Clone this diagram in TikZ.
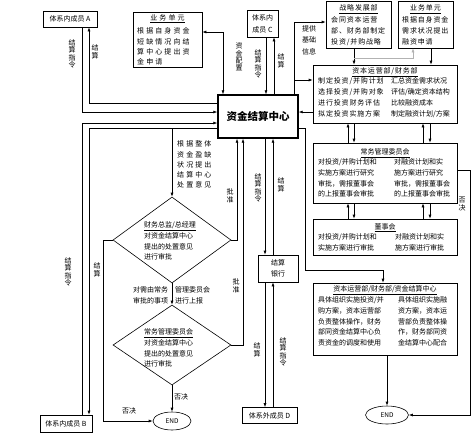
\documentclass[tikz,border=0pt]{standalone}
\usepackage{fontspec}
\setmainfont{Noto Sans CJK SC}
\newfontfamily\widefam[LetterSpace=30]{Noto Sans CJK SC}
\newfontfamily\midfam[LetterSpace=12]{Noto Sans CJK SC}
\usetikzlibrary{shapes.geometric,arrows.meta}
\newcommand\fs{\fontsize{7pt}{10.7pt}\selectfont}
\newcommand\fsw{\widefam\fontsize{7pt}{10.3pt}\selectfont}
\newcommand\fsm{\midfam\fontsize{7pt}{10.8pt}\selectfont}
\newcommand\fsr{\fontsize{7pt}{10.8pt}\selectfont}
\newcommand\fv{\fontsize{7pt}{7.4pt}\selectfont}
\begin{document}
\begin{tikzpicture}[x=1pt,y=-1pt,
  box/.style={draw, line width=0.6pt, inner sep=0pt},
  txt/.style={align=left, inner sep=0pt, anchor=north west},
  ttl/.style={inner sep=0pt, anchor=north},
  vl/.style={font=\fv, align=center, inner sep=0pt},
  hl/.style={font=\fs, inner sep=0pt},
  ln/.style={line width=0.6pt},
  arr/.style={ln, -{Latex[length=4pt,width=3pt]}},
  arrb/.style={ln, {Latex[length=4pt,width=3pt]}-{Latex[length=4pt,width=3pt]}},
]
\useasboundingbox (0,0) rectangle (474,432);

% ---------- boxes ----------
\node[box, minimum width=54pt, minimum height=16pt, font=\fs] (A) at (70,19) {体系内成员 A};
\node[box, minimum width=52pt, minimum height=17pt, font=\fs] (B) at (66,423.5) {体系内成员 B};
\node[box, minimum width=55pt, minimum height=16pt, font=\fs] (D) at (269.5,415.5) {体系外成员 D};
\node[box, minimum width=31pt, minimum height=27pt, align=center, font=\fontsize{7pt}{12pt}\selectfont] (C) at (262.5,23.5) {体系内\\成员 C};
\node[box, minimum width=40pt, minimum height=27pt, align=center, font=\fontsize{7pt}{11.5pt}\selectfont] (bank) at (278,268.5) {结算\\银行};

\node[draw, line width=1.4pt, minimum width=80pt, minimum height=43pt, inner sep=0pt,
      font=\fontsize{10.5pt}{12pt}\selectfont\bfseries] (ctr) at (258,116.5) {资金结算中心};

% business unit (left)
\node[box, minimum width=69pt, minimum height=55pt] (bizL) at (167.5,39.5) {};
\node[ttl, font=\fsw] (bizLt) at (167.5,14.5) {\underline{业务单元}};
\node[txt, font=\fsw] (bizLx) at (137,27.7) {根据自身资金\\短缺情况向结\\算中心提出资\\金申请};

% strategy
\node[box, minimum width=65pt, minimum height=47pt] (strat) at (358.5,24.5) {};
\node[ttl, font=\fsm] (stratt) at (358.5,4.7) {\underline{战略发展部}};
\node[txt, font=\fsm] (stratx) at (331,16.7) {会同资本运营\\部、财务部制定\\投资/并购战略};

% business unit (right)
\node[box, minimum width=55pt, minimum height=47pt] (bizR) at (425.5,24.5) {};
\node[ttl, font=\fsm] (bizRt) at (425.5,4.7) {\underline{业务单元}};
\node[txt, font=\fsm] (bizRx) at (402,16.7) {根据自身资金\\需求状况提出\\融资申请};

% capital operation / finance
\node[box, minimum width=144pt, minimum height=58pt] (capOp) at (385,94) {};
\node[ttl, font=\fsm] (capOpt) at (385,67.7) {\underline{资本运营部/财务部}};
\node[txt, font=\fsm] (capOpl) at (318,77.7) {制定投资/并购计划\\选择投资/并购对象\\进行投资财务评估\\拟定投资实施方案};
\node[txt, font=\fsr] (capOpr) at (391,77.7) {汇总资金需求状况\\评估/确定资本结构\\比较融资成本\\制定融资计划/方案};

% standing committee
\node[box, minimum width=144pt, minimum height=60pt] (stand) at (385,173) {};
\node[ttl, font=\fs] (standt) at (385,148.7) {\underline{常务管理委员会}};
\node[txt, font=\fs] (standl) at (318,158.7) {对投资/并购计划和\\实施方案进行研究\\审批，需报董事会\\的上报董事会审批};
\node[txt, font=\fs] (standr) at (394,158.7) {对融资计划和实\\施方案进行研究\\审批，需报董事会\\的上报董事会审批};

% board
\node[box, minimum width=144pt, minimum height=36pt] (board) at (385,237) {};
\node[ttl, font=\fs] (boardt) at (385,223) {\underline{董事会}};
\node[txt, font=\fs] (boardl) at (318,233.2) {对投资/并购计划和\\实施方案进行审批};
\node[txt, font=\fs] (boardr) at (395,233.2) {对融资计划和实\\施方案进行审批};

% implementation
\node[box, minimum width=144pt, minimum height=72pt] (impl) at (385,319) {};
\node[ttl, font=\fs] (implt) at (385,285.7) {\underline{资本运营部/财务部/资金结算中心}};
\node[txt, font=\fs] (impll) at (318,296.7) {具体组织实施投资/并\\购方案，资本运营部\\负责整体操作，财务\\部同资金结算中心负\\责资金的调度和使用};
\node[txt, font=\fs] (implr) at (398,296.7) {具体组织实施融\\资方案，资本运\\营部负责整体操\\作，财务部同资\\金结算中心配合};

% diamonds
\node[draw, ln, diamond, minimum width=118pt, minimum height=86pt, inner sep=0pt] (d1) at (172,240) {};
\node[txt, font=\fs] (d1x) at (144,221.7) {\underline{财务总监/总经理}\\对资金结算中心\\提出的处置意见\\进行审批};
\node[draw, ln, diamond, minimum width=118pt, minimum height=80pt, inner sep=0pt] (d2) at (172,345) {};
\node[txt, font=\fs] (d2x) at (144,328.7) {\underline{常务管理委员会}\\对资金结算中心\\提出的处置意见\\进行审批};

% END
\node[draw, ln, ellipse, minimum width=38pt, minimum height=18pt, inner sep=0pt, font=\fontsize{6.5pt}{7pt}\selectfont] (endL) at (172,421) {END};
\node[draw, ln, ellipse, minimum width=43pt, minimum height=18pt, inner sep=0pt, font=\fontsize{6.5pt}{7pt}\selectfont] (endR) at (387,415) {END};

% free texts
\node[txt, font=\fsw] (note1) at (177,140.7) {根据整体\\资金盈缺\\状况提出\\结算中心\\处置意见};
\node[txt, font=\fs] (note2) at (133,286.7) {对需由常务\hspace{7pt}管理委员会\\审批的事项\hspace{7pt}进行上报};

% ---------- connectors ----------
\coordinate (aO) at (82,112);
\coordinate (aI) at (89,103);
\coordinate (bO) at (82,123);
\coordinate (bI) at (89,128);
\draw[arr] (A.south -| aO) -- (aO) -- (aO -| ctr.west);
\draw[arr] (aI -| ctr.west) -- (aI) -- (A.south -| aI);
\draw[arr] (B.north -| bO) -- (bO) -- (bO -| ctr.west);
\draw[arr] (bI -| ctr.west) -- (bI) -- (B.north -| bI);
\coordinate (dj) at (172,128);
\draw[arr] (dj) -- (d1.north);

\coordinate (zj) at (223,32);
\draw[arrb] (bizL.east |- zj) -- (zj) -- (zj |- ctr.north);

\coordinate (c1) at (266,0);
\coordinate (c2) at (274,0);
\draw[arr] (c1 |- C.south) -- (c1 |- ctr.north);
\draw[arr] (c2 |- ctr.north) -- (c2 |- C.south);

\coordinate (p1) at (294,22);
\coordinate (p2) at (294,80);
\draw[ln] (p1 |- ctr.north) -- (p1);
\draw[arr] (p1) -- (p1 -| strat.west);
\draw[arr] (p2) -- (p2 -| capOp.west);

\coordinate (q1) at (305,112);
\draw[arr] (q1 -| capOp.west) -- (q1 -| ctr.east);

\coordinate (r1) at (305,128);
\coordinate (r2) at (305,270);
\coordinate (r3) at (383,270);
\draw[arr] (r1 -| ctr.east) -- (r1) -- (r2) -- (r3) -- (r3 |- impl.north);

\coordinate (s1) at (354,58);
\coordinate (s2) at (413,58);
\coordinate (s3) at (431,58);
\draw[arr] (s1 |- strat.south) -- (s1 |- capOp.north);
\draw[arr, gray!60] (s1) -- (s2) -- (s2 |- bizR.south);
\draw[arr] (s3 |- bizR.south) -- (s3 |- capOp.north);

\coordinate (k1) at (348,0);
\coordinate (k2) at (354,0);
\coordinate (k3) at (423,0);
\coordinate (k4) at (430,0);
\draw[arr] (k1 |- stand.north) -- (k1 |- capOp.south);
\draw[arr] (k2 |- capOp.south) -- (k2 |- stand.north);
\draw[arr] (k3 |- stand.north) -- (k3 |- capOp.south);
\draw[arr] (k4 |- capOp.south) -- (k4 |- stand.north);
\draw[arr] (k1 |- board.north) -- (k1 |- stand.south);
\draw[arr] (k2 |- stand.south) -- (k2 |- board.north);
\draw[arr] (k3 |- board.north) -- (k3 |- stand.south);
\draw[arr] (k4 |- stand.south) -- (k4 |- board.north);

\coordinate (v1) at (470,170);
\coordinate (v2) at (470,415);
\draw[arr] (v1 -| stand.east) -- (v1) -- (v2) -- (endR.east);
\draw[arr] (endR.north |- impl.south) -- (endR.north);

\coordinate (w1) at (237,240);
\coordinate (w2) at (243,345);
\draw[arr] (d1.east) -- (w1) -- (w1 |- ctr.south);
\draw[arr] (d2.east) -- (w2) -- (w2 |- ctr.south);
\draw[arr] (d1.south) -- (d2.north);
\coordinate (x1) at (103,240);
\coordinate (x2) at (103,421);
\draw[arr] (d1.west) -- (x1) -- (x2) -- (endL.west);
\draw[arr] (d2.south) -- (endL.north);

\coordinate (b1) at (265,0);
\coordinate (b2) at (273,0);
\draw[arr] (b1 |- ctr.south) -- (b1 |- bank.north);
\draw[arr] (b2 |- bank.north) -- (b2 |- ctr.south);
\draw[arr] (b1 |- bank.south) -- (b1 |- D.north);
\draw[arr] (b2 |- D.north) -- (b2 |- bank.south);

% ---------- labels ----------
\node[vl] (lA1) at (72,54) {结\\算\\指\\令};
\node[vl] (lA2) at (95,52) {结\\算};
\node[vl] (lB1) at (68,272) {结\\算\\指\\令};
\node[vl] (lB2) at (97,270) {结\\算};
\node[vl] (lZ) at (239,57) {资\\金\\配\\置};
\node[vl] (lC1) at (258,64) {结\\算\\指\\令};
\node[vl] (lC2) at (281,61) {结\\算};
\node[align=center, inner sep=0pt, font=\fontsize{7pt}{11.5pt}\selectfont] (lP) at (309,40) {提供\\基础\\信息};
\node[vl] (lP1) at (230,196) {批\\准};
\node[vl] (lP2) at (236,286) {批\\准};
\node[vl] (lK1) at (258,188) {结\\算\\指\\令};
\node[vl] (lK2) at (281,185) {结\\算};
\node[vl] (lK3) at (257,350) {结\\算};
\node[vl] (lK4) at (283,352) {结\\算\\指\\令};
\node[vl] (lV) at (462,204) {否\\决};
\node[hl] (lX) at (129,411) {否决};
\node[hl] (lY) at (181,397) {否决};
\end{tikzpicture}
\end{document}
